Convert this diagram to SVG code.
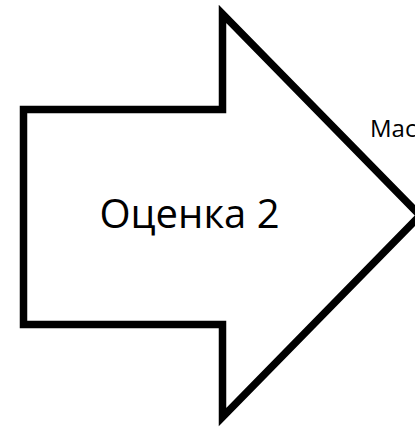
<svg xmlns="http://www.w3.org/2000/svg" width="415" height="427" viewBox="0 0 415 427">
  <style>
    .shape { fill: #ffffff; stroke: #000000; stroke-width: 7.5; stroke-linejoin: miter; stroke-miterlimit: 10; }
    .label { font-family: "Open Sans", "Liberation Sans", sans-serif; fill: #000000; }
  </style>
  <rect width="415" height="427" fill="#ffffff"/>
  <g id="arrow-node">
    <path class="shape" d="M23.5,109.5 L222.5,109.5 L222.5,14 L420,215.5 L222.5,417 L222.5,324.5 L23.5,324.5 Z"/>
    <text class="label" x="189.5" y="228" font-size="40" text-anchor="middle">Оценка 2</text>
  </g>
  <g id="side-label">
    <text class="label" x="370" y="137" font-size="24">Мас</text>
  </g>
</svg>
